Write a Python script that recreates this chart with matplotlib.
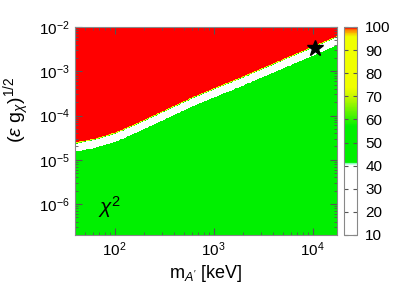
import numpy as np
import matplotlib
matplotlib.use("Agg")
import matplotlib.pyplot as plt
from matplotlib.colors import LinearSegmentedColormap, Normalize

plt.rcParams['font.family'] = ['Liberation Sans', 'DejaVu Sans']
plt.rcParams['mathtext.fontset'] = 'custom'
plt.rcParams['mathtext.rm'] = 'Liberation Sans'
plt.rcParams['mathtext.it'] = 'Liberation Sans:italic'
plt.rcParams['mathtext.bf'] = 'Liberation Sans:bold'

# ---- data ----
# upper edge of the allowed band (red region above), log10 values
bnd_logm = [1.60, 1.80, 2.00, 2.20, 2.40, 2.80, 3.27, 3.77, 4.25]
bnd_logeps = [-4.64, -4.55, -4.42, -4.23, -4.02, -3.60, -3.17, -2.69, -2.23]
band_width = 0.18          # decades, white band below the edge
edge_width = 0.03          # decades, thin green/yellow rim of the red region
chi2_red = 100.0
chi2_band = 25.0
chi2_green = 48.0
star_m = [10500.0]
star_eps = [3.3e-3]
cbar_ticks = [10, 20, 30, 40, 50, 60, 70, 80, 90, 100]
x_range = [10**1.6, 10**4.245]
y_range = [10**-6.7, 1e-2]

# ---- grid ----
lm = np.linspace(np.log10(x_range[0]), np.log10(x_range[1]), 500)
le = np.linspace(np.log10(y_range[0]), np.log10(y_range[1]), 500)
LM, LE = np.meshgrid(lm, le)
upper = np.interp(LM, bnd_logm, bnd_logeps)
d = LE - upper
Z = np.full_like(d, chi2_green)
Z[(d < 0) & (d > -band_width)] = chi2_band
rim = (d >= 0) & (d < edge_width)
Z[rim] = 50 + 50 * d[rim] / edge_width
Z[d >= edge_width] = chi2_red

cmap = LinearSegmentedColormap.from_list('chi', [
    (0.0, '#ffffff'), (30/90, '#ffffff'), (30.6/90, '#a0ffd0'), (31.5/90, '#00f000'),
    (47/90, '#00f000'), (60/90, '#c8f800'), (64/90, '#f0ff00'), (86/90, '#f0ff00'),
    (88.5/90, '#ff9000'), (90/90, '#ff0000')])
norm = Normalize(10, 100)

fig = plt.figure(figsize=(3.96, 3.05), dpi=100)
ax = fig.add_axes([75/396, 1-235/305, 262/396, 208/305])
ax.pcolormesh(10**lm, 10**le, Z, cmap=cmap, norm=norm, shading='auto', rasterized=True)
ax.set_xscale('log')
ax.set_yscale('log')
ax.set_xlim(x_range)
ax.set_ylim(y_range)
ax.plot(star_m, star_eps, marker='*', color='black', markersize=12, linestyle='none')
ax.text(88, 8.5e-7, r'$\chi^2$', fontsize=15, ha='center', va='center')

for s in ax.spines.values():
    s.set_color('#888888')
ax.tick_params(which='both', direction='in', top=True, right=True, color='#555555', labelsize=11, pad=4)
ax.tick_params(which='major', length=5)
ax.tick_params(which='minor', length=2.5)
ax.set_xlabel(r"$\mathregular{m}_{A'}$ [keV]", fontsize=13, labelpad=3)
ax.set_ylabel(r"$(\epsilon\ \mathregular{g}_\chi)^{1/2}$", fontsize=14)
ax.yaxis.set_label_coords(-0.165, 0.6)

cax = fig.add_axes([344/396, 1-235/305, 13/396, 208/305])
sm = matplotlib.cm.ScalarMappable(norm=norm, cmap=cmap)
cb = fig.colorbar(sm, cax=cax, ticks=cbar_ticks)
cb.outline.set_edgecolor('#888888')
cax.tick_params(direction='in', left=True, right=True, length=3, color='#555555', labelsize=11, pad=6)
cax.minorticks_off()

fig.savefig('out.png', dpi=100)
